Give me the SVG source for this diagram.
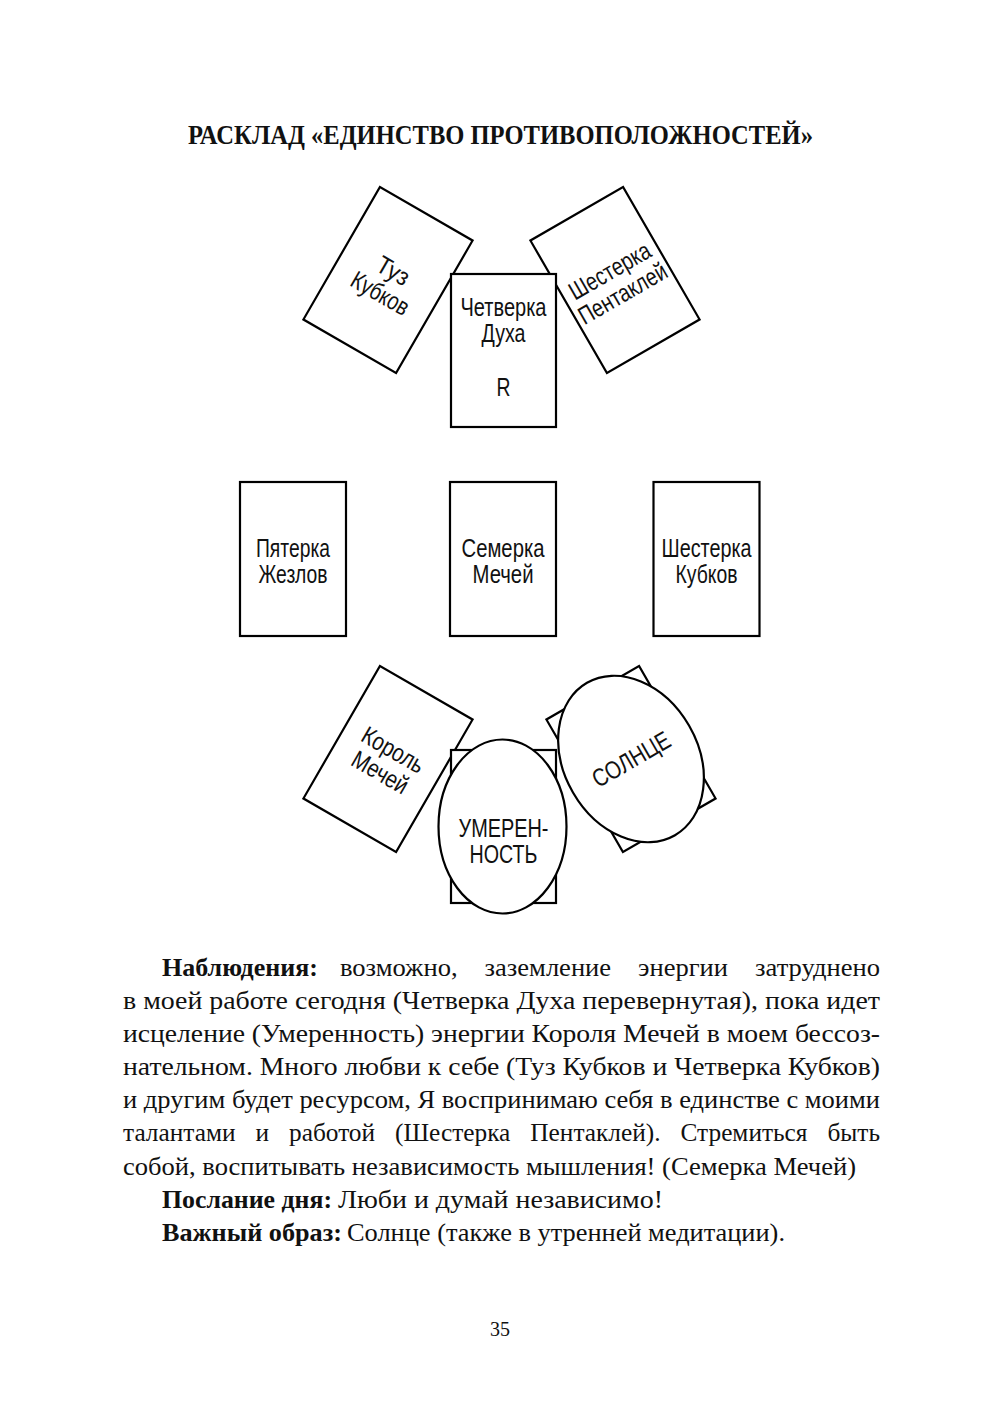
<svg xmlns="http://www.w3.org/2000/svg" width="1000" height="1418" viewBox="0 0 1000 1418">
<style>
.card{fill:#fff;stroke:#000;stroke-width:2.2}
.lbl{font-family:"Liberation Sans",Arial,sans-serif;font-size:25px;fill:#111;text-anchor:middle}
.body{font-family:"Liberation Serif","Times New Roman",serif;font-size:26px;fill:#111}
.b{font-weight:bold}
.title{font-family:"Liberation Serif","Times New Roman",serif;font-size:27px;font-weight:bold;fill:#111}
</style>
<rect x="0" y="0" width="1000" height="1418" fill="#fff"/>
<text id="title" class="title" x="188" y="144" textLength="625" lengthAdjust="spacingAndGlyphs">РАСКЛАД «ЕДИНСТВО ПРОТИВОПОЛОЖНОСТЕЙ»</text>

<g id="connectors"></g>

<g id="card-tuz-kubkov" transform="translate(388,280) rotate(30)">
<rect class="card" x="-53.5" y="-76.5" width="107" height="153"/>
<text class="lbl" x="0" y="-2" textLength="34" lengthAdjust="spacingAndGlyphs">Туз</text>
<text class="lbl" x="0" y="24" textLength="63" lengthAdjust="spacingAndGlyphs">Кубков</text>
</g>
<g id="card-shesterka-pentakley" transform="translate(615,280) rotate(-30)">
<rect class="card" x="-53.5" y="-76.5" width="107" height="153"/>
<text class="lbl" x="0" y="-2" textLength="90" lengthAdjust="spacingAndGlyphs">Шестерка</text>
<text class="lbl" x="0" y="24" textLength="98" lengthAdjust="spacingAndGlyphs">Пентаклей</text>
</g>
<g id="card-chetverka-duha" transform="translate(503.5,350.5)">
<rect class="card" x="-52.5" y="-76.5" width="105" height="153"/>
<text class="lbl" x="0" y="-35" textLength="86" lengthAdjust="spacingAndGlyphs">Четверка</text>
<text class="lbl" x="0" y="-9" textLength="44" lengthAdjust="spacingAndGlyphs">Духа</text>
<text class="lbl" x="0" y="45" textLength="14" lengthAdjust="spacingAndGlyphs">R</text>
</g>

<g id="card-pyaterka-zhezlov" transform="translate(293,559)">
<rect class="card" x="-53" y="-77" width="106" height="154"/>
<text class="lbl" x="0" y="-2" textLength="74" lengthAdjust="spacingAndGlyphs">Пятерка</text>
<text class="lbl" x="0" y="24" textLength="69" lengthAdjust="spacingAndGlyphs">Жезлов</text>
</g>
<g id="card-semerka-mechey" transform="translate(503,559)">
<rect class="card" x="-53" y="-77" width="106" height="154"/>
<text class="lbl" x="0" y="-2" textLength="83" lengthAdjust="spacingAndGlyphs">Семерка</text>
<text class="lbl" x="0" y="24" textLength="61" lengthAdjust="spacingAndGlyphs">Мечей</text>
</g>
<g id="card-shesterka-kubkov" transform="translate(706.5,559)">
<rect class="card" x="-53" y="-77" width="106" height="154"/>
<text class="lbl" x="0" y="-2" textLength="90" lengthAdjust="spacingAndGlyphs">Шестерка</text>
<text class="lbl" x="0" y="24" textLength="62" lengthAdjust="spacingAndGlyphs">Кубков</text>
</g>

<g id="card-korol-mechey" transform="translate(388,759) rotate(30)">
<rect class="card" x="-53.5" y="-76.5" width="107" height="153"/>
<text class="lbl" x="0" y="-2" textLength="68" lengthAdjust="spacingAndGlyphs">Король</text>
<text class="lbl" x="0" y="24" textLength="61" lengthAdjust="spacingAndGlyphs">Мечей</text>
</g>
<g id="card-umerennost" transform="translate(503.5,826.5)">
<rect class="card" x="-52.5" y="-76.5" width="105" height="153"/>
<ellipse class="card" cx="-1" cy="0" rx="64" ry="87"/>
<text class="lbl" x="0" y="10" textLength="90" lengthAdjust="spacingAndGlyphs">УМЕРЕН-</text>
<text class="lbl" x="0" y="36" textLength="68" lengthAdjust="spacingAndGlyphs">НОСТЬ</text>
</g>
<g id="card-solnce" transform="translate(631,759) rotate(-30)">
<rect class="card" x="-53.5" y="-76.5" width="107" height="153"/>
<ellipse class="card" cx="0" cy="0" rx="67" ry="88"/>
<text class="lbl" x="0" y="9" textLength="86" lengthAdjust="spacingAndGlyphs">СОЛНЦЕ</text>
</g>

<g id="body-text">
<text class="body b" x="162" y="976" textLength="156" lengthAdjust="spacingAndGlyphs">Наблюдения:</text>
<text class="body" x="340" y="976" word-spacing="20" textLength="540" lengthAdjust="spacingAndGlyphs">возможно, заземление энергии затруднено</text>

<text class="body" x="123" y="1009" textLength="757" lengthAdjust="spacingAndGlyphs">в моей работе сегодня (Четверка Духа перевернутая), пока идет</text>
<text class="body" x="123" y="1042" textLength="757" lengthAdjust="spacingAndGlyphs">исцеление (Умеренность) энергии Короля Мечей в моем бессоз-</text>
<text class="body" x="123" y="1075" textLength="757" lengthAdjust="spacingAndGlyphs">нательном. Много любви к себе (Туз Кубков и Четверка Кубков)</text>
<text class="body" x="123" y="1108" textLength="757" lengthAdjust="spacingAndGlyphs">и другим будет ресурсом, Я воспринимаю себя в единстве с моими</text>
<text class="body" x="123" y="1141" word-spacing="14" textLength="757" lengthAdjust="spacingAndGlyphs">талантами и работой (Шестерка Пентаклей). Стремиться быть</text>
<text class="body" x="123" y="1175" textLength="733" lengthAdjust="spacingAndGlyphs">собой, воспитывать независимость мышления! (Семерка Мечей)</text>

<text class="body b" x="162" y="1208" textLength="170" lengthAdjust="spacingAndGlyphs">Послание дня:</text>
<text class="body" x="338" y="1208" textLength="325" lengthAdjust="spacingAndGlyphs">Люби и думай независимо!</text>

<text class="body b" x="162" y="1241" textLength="180" lengthAdjust="spacingAndGlyphs">Важный образ:</text>
<text class="body" x="347" y="1241" textLength="438" lengthAdjust="spacingAndGlyphs">Солнце (также в утренней медитации).</text>
</g>

<text id="page-number" x="500" y="1336" text-anchor="middle" style="font-family:'Liberation Serif','Times New Roman',serif;font-size:20px;fill:#111">35</text>
</svg>
